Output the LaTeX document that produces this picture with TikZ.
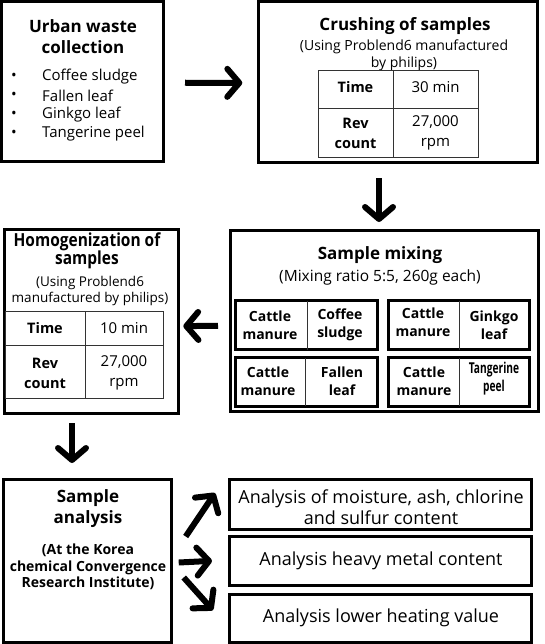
\documentclass[tikz,border=0pt]{standalone}
\usepackage{fontspec}
\usepackage{graphicx}
\setmainfont{Open Sans}
\usetikzlibrary{arrows.meta,calc}
\newcommand{\fs}[2]{\fontsize{#1}{#2}\selectfont}
\begin{document}
\begin{tikzpicture}[x=1pt,y=-1pt,
  outer/.style={draw, line width=3pt, outer sep=0pt, inner sep=0pt, anchor=north west},
  inbox/.style={draw, line width=3pt, outer sep=0pt, inner sep=0pt, anchor=north west},
  tline/.style={line width=0.8pt, draw=black!80},
  ttl/.style={font=\fs{17}{21}\bfseries, align=center, inner sep=0pt},
  sub/.style={font=\fs{14}{17}, align=center, inner sep=0pt},
  itm/.style={font=\fs{15}{19}, inner sep=0pt, anchor=west},
  cell/.style={font=\fs{15}{20}, align=center, inner sep=0pt},
  bcell/.style={font=\fs{14.5}{20}\bfseries, align=center, inner sep=0pt},
  mcell/.style={font=\fs{14}{17.5}\bfseries, align=center, inner sep=0pt},
  rtxt/.style={font=\fs{18}{21}, align=center, inner sep=0pt},
  bigarrow/.style={line width=6pt, -{Straight Barb[length=12pt,width=28pt,round]}}
]
\useasboundingbox (0,0) rectangle (545,644);
\coordinate (colA) at (379,0);
\coordinate (colB) at (72,0);
% boxes
\node[outer, minimum width=161.5pt, minimum height=160.5pt] (urban) at (1.5,1.5) {};
\node[outer, minimum width=279.2pt, minimum height=160.8pt] (crush) at (258.3,1.5) {};
\node[outer, minimum width=174pt, minimum height=184.3pt] (homog) at (4.3,229) {};
\node[outer, minimum width=308.5pt, minimum height=181.5pt] (mix) at (230,230) {};
\node[inbox, minimum width=142.5pt, minimum height=49pt] (m1) at (235,300.5) {};
\node[inbox, minimum width=141.5pt, minimum height=49pt] (m2) at (388,300.5) {};
\node[inbox, minimum width=142.5pt, minimum height=48.5pt] (m3) at (235,357.5) {};
\node[inbox, minimum width=141.5pt, minimum height=48.5pt] (m4) at (388,357.5) {};
\node[outer, minimum width=168.4pt, minimum height=163pt] (anal) at (3.3,479) {};
\node[outer, minimum width=302.3pt, minimum height=50pt] (r1) at (229,479) {};
\node[outer, minimum width=302.3pt, minimum height=48.3pt] (r2) at (229,536.7) {};
\node[outer, minimum width=302.3pt, minimum height=47.7pt] (r3) at (229,594.3) {};
% urban text
\node[ttl] (urbanT) at (83,37) {Urban waste\\collection};
\node[itm] (b1) at (11,77) {•}; \node[itm] (i1) at (42,77) {Coffee sludge};
\node[itm] (b2) at (11,96) {•}; \node[itm] (i2) at (42,96) {Fallen leaf};
\node[itm] (b3) at (11,115) {•}; \node[itm] (i3) at (42,115) {Ginkgo leaf};
\node[itm] (b4) at (11,134) {•}; \node[itm] (i4) at (42,134) {Tangerine peel};
% crushing
\node[ttl] (crushT) at (405,26) {Crushing of samples};
\node[sub] (crushS) at (404,55) {(Using Problend6 manufactured\\by philips)};
\draw[tline] (318,70) rectangle (478,157) (393,70) -- (393,157) (318,108) -- (478,108);
\node[bcell] (c11) at (355.5,87) {Time};
\node[cell] (c12) at (435.5,87) {30 min};
\node[bcell] (c21) at (355.5,133) {Rev\\count};
\node[cell] (c22) at (435.5,133) {27,000\\rpm};
% homogenization
\node[ttl, font=\fs{18}{18.5}\bfseries] (homT) at (87,251) {\scalebox{0.86}[1]{Homogenization of}\\\scalebox{0.86}[1]{samples}};
\node[sub, font=\fs{13.5}{16}] (homS) at (90,291) {(Using Problend6\\manufactured by philips)};
\draw[tline] (5,311) rectangle (163,398) (85,311) -- (85,398) (5,345) -- (163,345);
\node[bcell] (h11) at (45,328) {Time};
\node[cell] (h12) at (124,328) {10 min};
\node[bcell] (h21) at (45,373) {Rev\\count};
\node[cell] (h22) at (124,373) {27,000\\rpm};
% mixing
\node[ttl] (mixT) at (380,255) {Sample mixing};
\node[sub, font=\fs{15.5}{18}] (mixS) at (380,277) {(Mixing ratio 5:5, 260g each)};
\draw[tline] (307,300.5) -- (307,349.5) (459,300.5) -- (459,349.5)
             (305,357.5) -- (305,406) (459,357.5) -- (459,406);
\node[mcell] (x11) at (270,325) {Cattle\\manure};
\node[mcell] (x12) at (340,325) {Coffee\\sludge};
\node[mcell] (x21) at (423,322) {Cattle\\manure};
\node[mcell] (x22) at (494,325) {Ginkgo\\leaf};
\node[mcell] (x31) at (268,381) {Cattle\\manure};
\node[mcell] (x32) at (342,381) {Fallen\\leaf};
\node[mcell] (x41) at (424,381) {Cattle\\manure};
\node[mcell, font=\fs{15}{18}\bfseries] (x42) at (494,379) {\scalebox{0.68}[1]{Tangerine}\\\scalebox{0.68}[1]{peel}};
% analysis
\node[ttl] (analT) at (88,509) {Sample\\analysis};
\node[sub, font=\fs{14}{16.5}\bfseries] (analS) at (88,567) {(At the Korea\\chemical Convergence\\Research Institute)};
\node[rtxt] (r1T) at (381,507) {Analysis of moisture, ash, chlorine\\and sulfur content};
\node[rtxt] (r2T) at (381,561) {Analysis heavy metal content};
\node[rtxt] (r3T) at (381,618) {Analysis lower heating value};
% arrows
\draw[bigarrow] ($(urban.east)+(22,1)$) -- ($(crush.west)+(-16,1)$);
\draw[bigarrow] ($(crush.south -| colA)+(0,16)$) -- ($(mix.north -| colA)+(0,-8)$);
\draw[bigarrow] ($(mix.west)+(-12,5)$) -- ($(homog.east)+(5,5)$);
\draw[bigarrow] ($(homog.south -| colB)+(0,10)$) -- ($(anal.north -| colB)+(0,-16)$);
\draw[bigarrow] ($(anal.east)+(14,-24)$) -- ($(r1.west)+(-14,-11)$);
\draw[bigarrow] ($(anal.east)+(7,2)$) -- ($(r2.west)+(-17,0)$);
\draw[bigarrow] ($(anal.east)+(12,17)$) -- ($(r3.west)+(-16,-8)$);
\end{tikzpicture}
\end{document}
